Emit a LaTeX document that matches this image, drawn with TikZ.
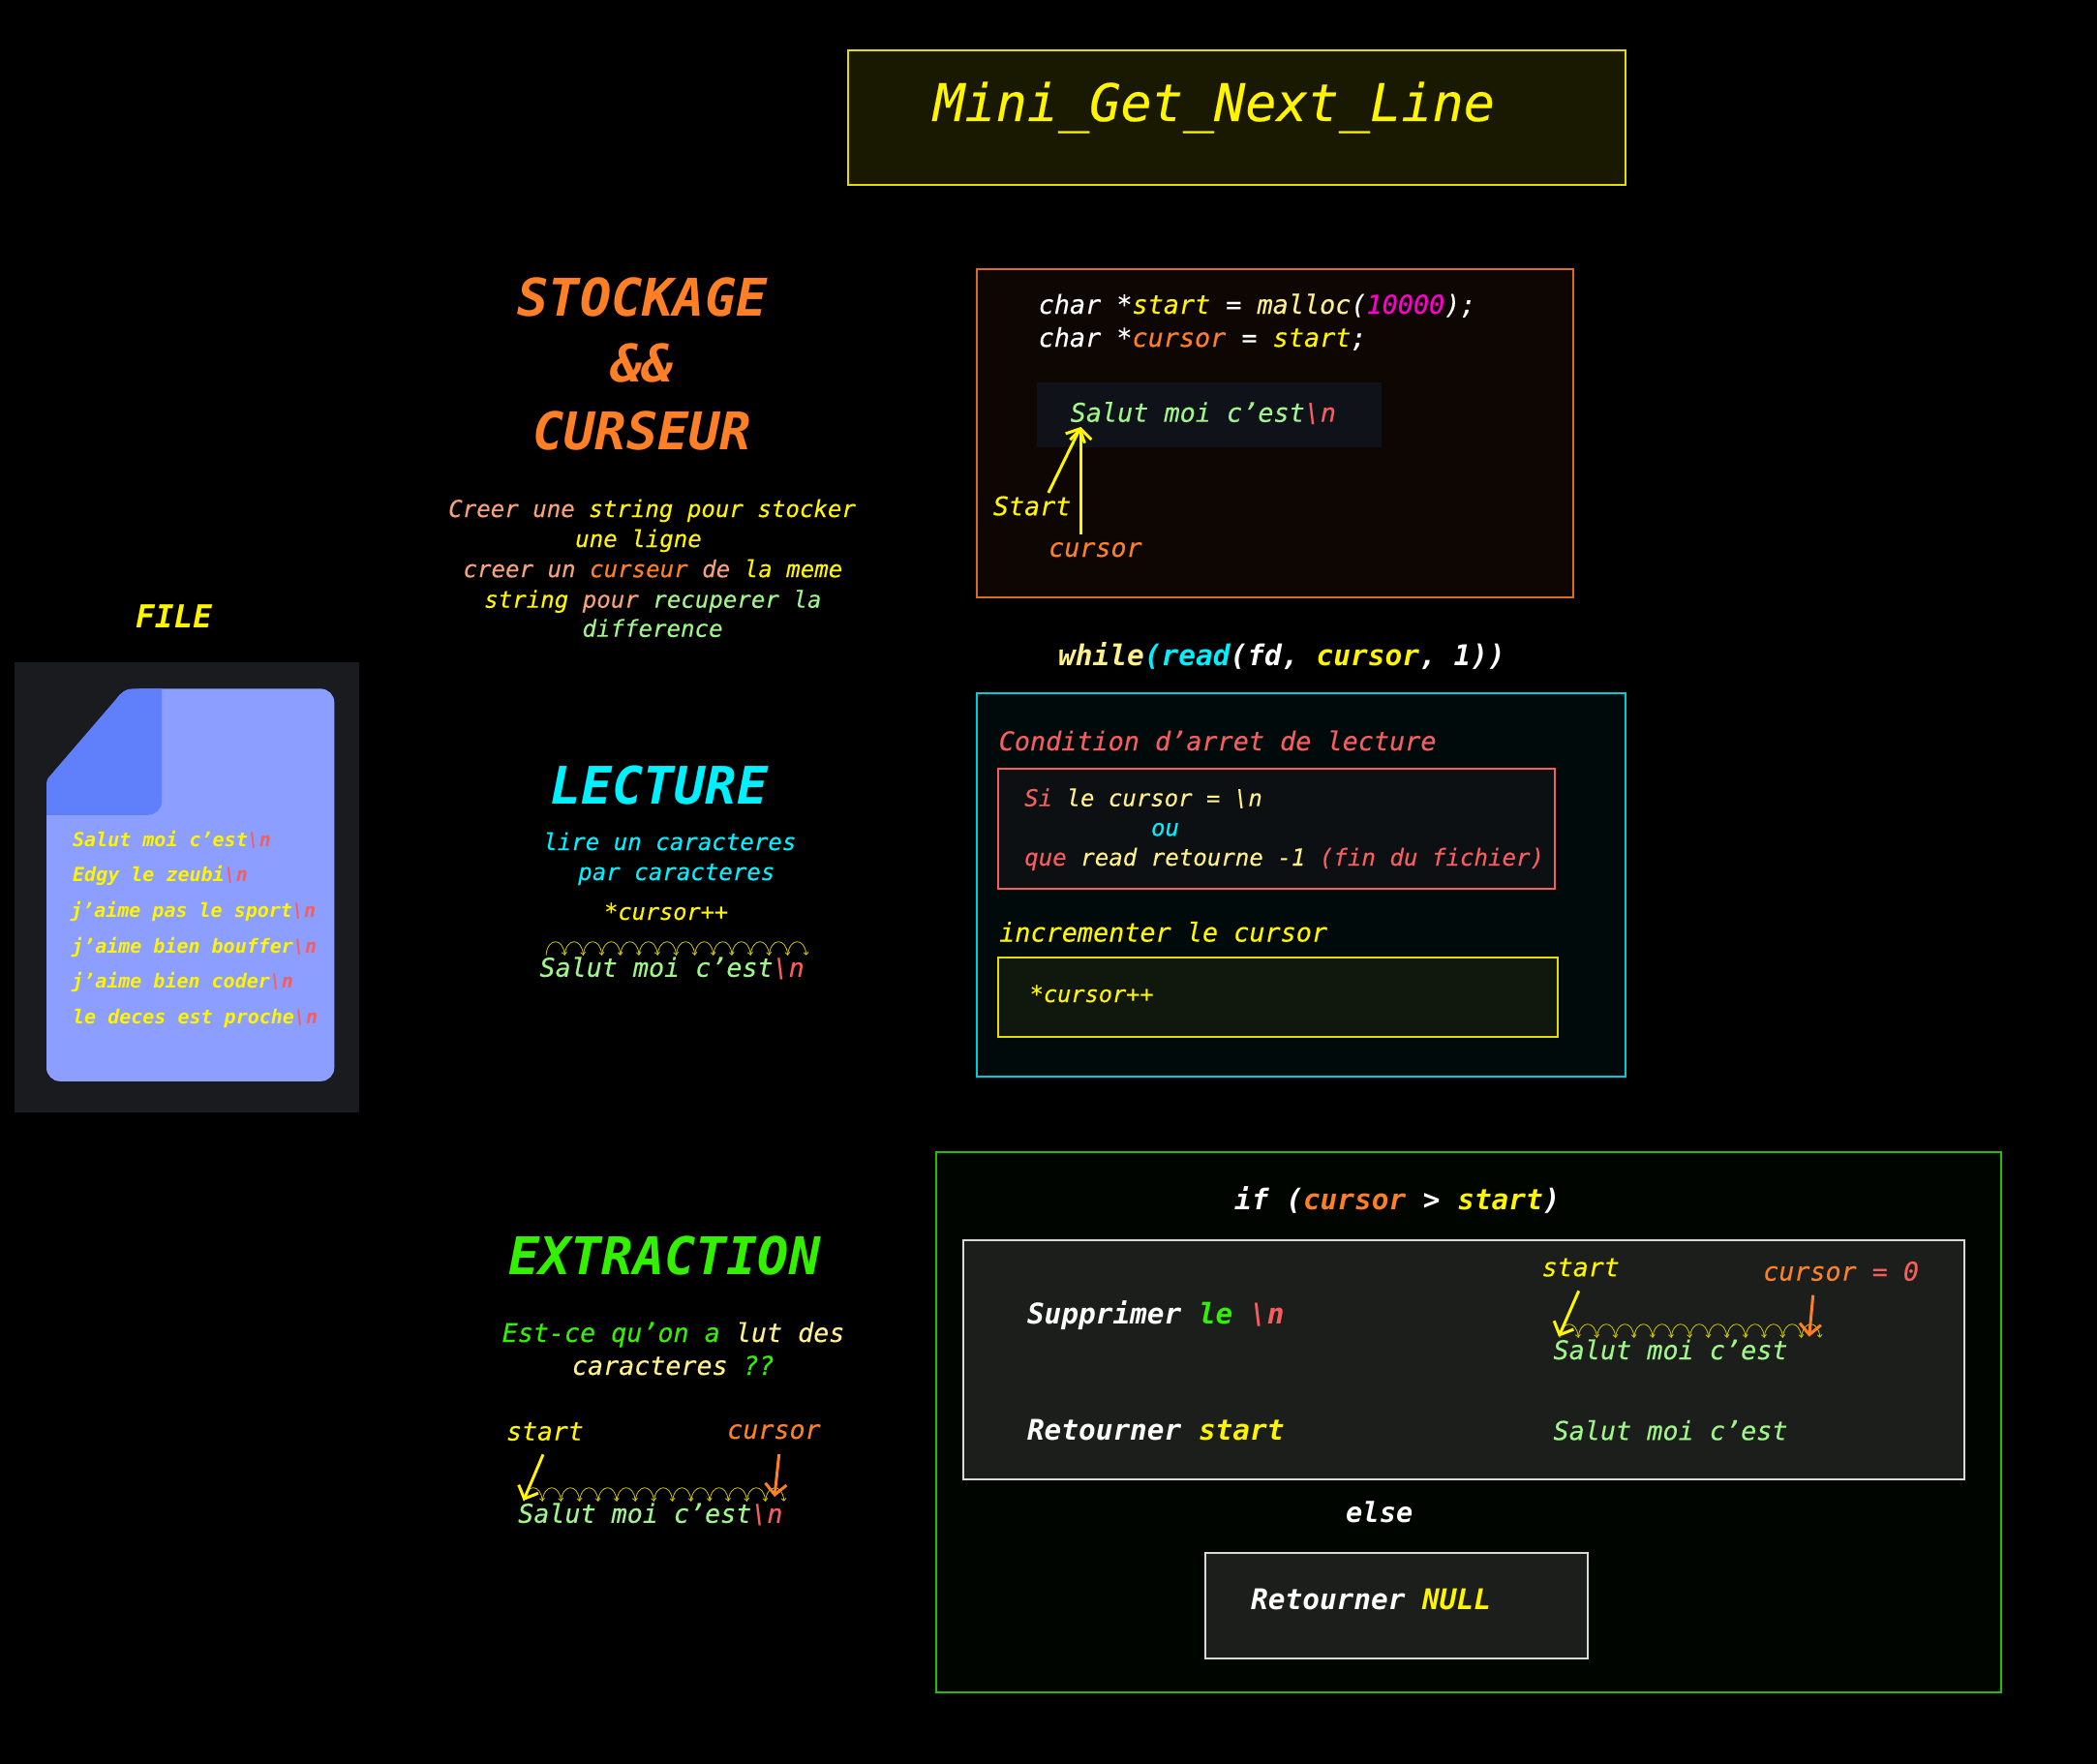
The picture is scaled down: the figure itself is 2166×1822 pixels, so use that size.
\documentclass[tikz,border=0pt]{standalone}
\usepackage{fontspec}
\setmainfont{DejaVu Sans Mono}[ItalicFeatures={FakeBold=0.25}]
\usetikzlibrary{arrows.meta}
\definecolor{cy}{HTML}{FFF500}
\definecolor{cly}{HTML}{FFF08A}
\definecolor{co}{HTML}{FF7F27}
\definecolor{cp}{HTML}{F5A27A}
\definecolor{cr}{HTML}{F55D5F}
\definecolor{cg}{HTML}{A0F58A}
\definecolor{cc}{HTML}{00F0FF}
\definecolor{cl}{HTML}{33F000}
\definecolor{cm}{HTML}{FF00CC}
\newcommand{\NL}{\textcolor{cr}{\textbackslash n}}
\newcommand{\hops}[3]{\foreach \i in {1,...,14}{%
  \pgfmathsetmacro{\xa}{#1+(\i-1)*19.2}\pgfmathsetmacro{\xb}{\xa+19.2}%
  \draw[hop] (\xa,#2) .. controls (\xa+1.5,#2-18.5) and (\xb-1.5,#2-18.5) .. (\xb,#2);}}
\tikzset{x=1pt,y=-1pt,
 lbl/.style={inner sep=0pt,anchor=base west,font=\fontsize{#1}{#1}\selectfont\itshape},
 blbl/.style={inner sep=0pt,anchor=base west,font=\fontsize{#1}{#1}\selectfont\bfseries\itshape},
 boxed/.style={line width=2pt},
 hop/.style={draw=cy!82!black,line width=0.8pt,-{Straight Barb[length=2.6pt,width=5pt]}},
 arr/.style={line width=3pt,-{Straight Barb[length=11pt,width=22pt]}}}
\begin{document}
\begin{tikzpicture}
\useasboundingbox (0,0) rectangle (2166,1822);
\fill[black] (0,0) rectangle (2166,1822);
% title
\draw[boxed,draw=cy!90!black,fill=cy!10!black] (876,52) rectangle (1678.5,191);
\node[lbl=53.5,text=cy] (ttl) at (964,125) {Mini\_Get\_Next\_Line};
% file
\node[blbl=32.7,text=cy] (filelbl) at (140,648) {FILE};
\fill[fill={rgb,255:red,26;green,27;blue,30}] (14.7,684) rectangle (371.3,1149);
\fill[fill={rgb,255:red,140;green,158;blue,255}, rounded corners=14pt]
  (48,1116.8) -- (48,806) -- (131,711.4) -- (345.3,711.4) -- (345.3,1116.8) -- cycle;
\fill[fill={rgb,255:red,95;green,128;blue,250}]
  (48,841.8) -- (48,812) .. controls (48,806) and (49,804) .. (52,801) -- (120,722)
  .. controls (125,715) and (130,711.4) .. (137,711.4) -- (167,711.4) -- (167,828)
  .. controls (167,836) and (160,841.8) .. (153,841.8) -- cycle;
\node[blbl=20,text=cy] (f1) at (75,874) {Salut moi c'est\NL};
\node[blbl=20,text=cy] (f2) at (75,910.7) {Edgy le zeubi\NL};
\node[blbl=20,text=cy] (f3) at (73,947.5) {j'aime pas le sport\NL};
\node[blbl=20,text=cy] (f4) at (74,984) {j'aime bien bouffer\NL};
\node[blbl=20,text=cy] (f5) at (74,1020.7) {j'aime bien coder\NL};
\node[blbl=20,text=cy] (f6) at (75,1057) {le deces est proche\NL};
% stockage
\node[blbl=53.6,text=co] (st1) at (534.3,326.7) {STOCKAGE};
\node[blbl=53.6,text=co] (st2) at (631.5,394.8) {\&\&};
\node[blbl=53.6,text=co] (st3) at (550,464.3) {CURSEUR};
\node[lbl=24.1,text=cp] (p1) at (463,534) {Creer une \textcolor{cy}{string pour stocker}};
\node[lbl=24.1,text=cy] (p2) at (594,565) {une ligne};
\node[lbl=24.1,text=cp] (p3) at (478.3,596.2) {creer un \textcolor{co}{curseur} de \textcolor{cy}{la meme}};
\node[lbl=24.1,text=cy] (p4) at (500,627.7) {string \textcolor{cp}{pour} \textcolor{cg}{recuperer la}};
\node[lbl=24.1,text=cg] (p5) at (601.3,657.7) {difference};
% box stockage
\draw[boxed,draw=co!85!black,fill=co!5!black] (1009.4,277.7) rectangle (1624.5,617);
\node[lbl=26.8,text=white] (c1) at (1072.5,324) {char *\textcolor{cy}{start} = \textcolor{cly}{malloc}(\textcolor{cm}{10000});};
\node[lbl=26.8,text=white] (c2) at (1072.5,358.2) {char *\textcolor{co}{cursor} = \textcolor{cy}{start};};
\fill[fill={rgb,255:red,15;green,18;blue,24}] (1071,395) rectangle (1426.5,462);
\node[lbl=26.8,text=cg] (s1) at (1105.5,435.7) {Salut moi c'est\NL};
\node[lbl=26.7,text=cy] (startA) at (1025.7,532.3) {Start};
\node[lbl=26.7,text=co] (curA) at (1083,575) {cursor};
\coordinate (a1) at (1082.9,509); \coordinate (a2) at (1116.3,551.7); \coordinate (a3) at (1116.3,441);
\draw[arr,draw=cy] (a1) -- (a3);
\draw[arr,draw=cy] (a2) -- (a3);
% lecture
\node[blbl=53.4,text=cc] (le1) at (568,830) {LECTURE};
\node[lbl=24.1,text=cc] (le2) at (561,878) {lire un caracteres};
\node[lbl=24.1,text=cc] (le3) at (597,909) {par caracteres};
\node[lbl=23.6,text=cy] (le4) at (624,950) {*cursor++};
\hops{564}{986.7}{}
\node[lbl=26.7,text=cg] (le5) at (557.3,1008.8) {Salut moi c'est\NL};
% while
\node[blbl=29.5,text=white] (wh) at (1092.9,687.7) {\textcolor{cly}{while}\textcolor{cc}{(read}(fd, \textcolor{cy}{cursor}, 1))};
\draw[boxed,draw=cc!85!black,fill=cc!4!black] (1009.4,715.7) rectangle (1678.6,1112);
\node[lbl=26.8,text=cr] (w1) at (1031.5,775) {Condition d'arret de lecture};
\draw[boxed,draw=cr,fill={rgb,255:red,13;green,16;blue,18}] (1031.3,793.7) rectangle (1606,918.3);
\node[lbl=24,text=cly] (w2) at (1058,832.7) {\textcolor{cr}{Si} le cursor = \textbackslash n};
\node[lbl=24,text=cc] (w3) at (1188.8,863.3) {ou};
\node[lbl=24.1,text=cly] (w4) at (1058,894) {\textcolor{cr}{que} read retourne -1 \textcolor{cr}{(fin du fichier)}};
\node[lbl=26.8,text=cy] (w5) at (1032,972.5) {incrementer le cursor};
\draw[boxed,draw=cy!90!black,fill={rgb,255:red,16;green,23;blue,12}] (1031.3,988.7) rectangle (1609.4,1071.3);
\node[lbl=23.6,text=cy] (w6) at (1063.5,1035) {*cursor++};
% extraction
\node[blbl=53.5,text=cl] (e1) at (525,1316.5) {EXTRACTION};
\node[lbl=26.7,text=cl] (e2) at (518.5,1386) {Est-ce qu'on a \textcolor{cly}{lut des}};
\node[lbl=26.7,text=cly] (e3) at (590.7,1420) {caracteres \textcolor{cl}{??}};
\node[lbl=26.4,text=cy] (e4) at (523,1487.7) {start};
\node[lbl=26.7,text=co] (e5) at (751,1486) {cursor};
\hops{541}{1550.7}{}
\node[lbl=26.7,text=cg] (e6) at (535,1572.8) {Salut moi c'est\NL};
\coordinate (b1) at (561,1502.3); \coordinate (b2) at (540.7,1550);
\coordinate (b3) at (804.7,1502); \coordinate (b4) at (800,1546);
\draw[arr,draw=cy] (b1) -- (b2);
\draw[arr,draw=co] (b3) -- (b4);
% if
\draw[boxed,draw=cl!78!black,fill={rgb,255:red,0;green,5;blue,0}] (967,1190) rectangle (2066.5,1748);
\node[blbl=29.4,text=white] (i1) at (1275,1249.5) {if (\textcolor{co}{cursor} > \textcolor{cy}{start})};
\draw[boxed,draw=white!85!black,fill={rgb,255:red,27;green,30;blue,26}] (994.7,1280.6) rectangle (2029,1528);
\node[blbl=29.4,text=white] (i2) at (1060.8,1367.3) {Supprimer \textcolor{cl}{le} \NL};
\node[blbl=29.4,text=white] (i3) at (1060.8,1487.5) {Retourner \textcolor{cy}{start}};
\node[lbl=26.6,text=cy] (i4) at (1592.5,1318.3) {start};
\node[lbl=26.7,text=co] (i5) at (1821,1322.7) {cursor \textcolor{cr}{= 0}};
\hops{1611}{1381.7}{}
\node[lbl=26.8,text=cg] (i6) at (1604.3,1404) {Salut moi c'est};
\node[lbl=26.8,text=cg] (i7) at (1604.3,1487.3) {Salut moi c'est};
\coordinate (c1a) at (1630.7,1333.3); \coordinate (c1b) at (1610,1380.7);
\coordinate (c2a) at (1872.7,1337.7); \coordinate (c2b) at (1868.7,1380.7);
\draw[arr,draw=cy] (c1a) -- (c1b);
\draw[arr,draw=co] (c2a) -- (c2b);
\node[blbl=28.7,text=white] (i8) at (1390,1572) {else};
\draw[boxed,draw=white!85!black,fill={rgb,255:red,27;green,30;blue,26}] (1244.5,1604) rectangle (1640,1713);
\node[blbl=29.4,text=white] (i9) at (1292,1662.5) {Retourner \textcolor{cy}{NULL}};
\end{tikzpicture}
\end{document}
